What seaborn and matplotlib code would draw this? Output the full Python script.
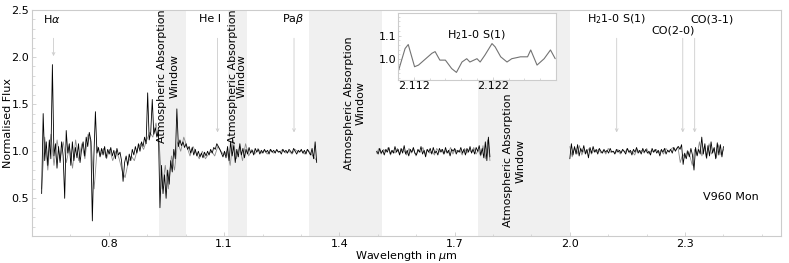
import numpy as np
import pandas as pd
import matplotlib
matplotlib.use('Agg')
import matplotlib.pyplot as plt
from matplotlib.ticker import FixedLocator, MultipleLocator
import seaborn as sns

# spectrum pieces (flux, evenly spaced in wavelength)
seg1_range = (0.625, 1.341)
seg1_black = [
    0.55, 1.40, 0.90, 1.10, 0.85, 1.12, 0.92, 1.92, 0.95, 1.08,
    0.82, 1.05, 0.88, 1.10, 0.95, 0.50, 1.22, 0.98, 1.08, 0.85,
    1.10, 0.90, 1.04, 0.93, 1.08, 0.88, 1.02, 1.10, 0.95, 1.15,
    1.05, 1.20, 1.12, 0.26, 0.95, 1.42, 0.98, 1.04, 0.94, 1.03,
    0.96, 1.05, 0.93, 1.02, 0.97, 1.04, 0.95, 1.01, 0.92, 1.03,
    0.96, 0.99, 0.90, 0.68, 0.88, 0.95, 0.85, 0.97, 0.90, 1.02,
    0.96, 1.05, 0.98, 1.08, 1.00, 1.10, 1.05, 1.15, 1.08, 1.62,
    1.12, 1.20, 1.55, 1.18, 1.25, 1.15, 1.22, 0.40, 0.85, 0.55,
    0.75, 0.50, 0.80, 0.65, 0.90, 0.78, 1.02, 0.92, 1.45, 1.05,
    1.12, 1.06, 1.10, 1.04, 1.08, 1.02, 1.05, 0.98, 1.04, 0.96,
    1.02, 0.95, 1.00, 0.94, 0.98, 0.93, 0.99, 0.95, 1.00, 0.96,
    1.02, 0.98, 1.04, 1.02, 1.08, 1.05, 1.02, 0.98, 0.94, 1.00,
    0.93, 1.05, 0.90, 1.10, 0.95, 1.06, 0.88, 1.02, 0.94, 1.08,
    0.96, 1.03, 0.93, 1.02, 0.97, 1.04, 0.98, 1.01, 0.96, 1.03,
    0.99, 1.02, 0.97, 1.01, 0.98, 1.02, 0.99, 1.01, 0.97, 1.02,
    0.99, 1.01, 0.98, 1.02, 0.99, 1.00, 0.97, 1.02, 0.99, 1.01,
    0.98, 1.02, 1.00, 0.98, 1.03, 1.00, 0.97, 1.01, 0.99, 1.02,
    0.98, 1.01, 0.97, 1.02, 0.99, 0.96, 1.03, 0.92, 1.10, 0.88,
]
seg1_grey = [
    0.60, 1.15, 0.80, 1.18, 0.85, 1.12, 0.90, 1.10, 0.88, 1.05,
    0.82, 1.12, 0.90, 1.08, 0.92, 1.18, 1.10, 0.60, 1.05, 0.95,
    1.03, 0.92, 1.02, 0.90, 1.00, 0.93, 0.80, 0.72, 0.88, 0.95,
    0.90, 1.02, 1.08, 1.02, 1.12, 1.20, 1.15, 1.30, 1.10, 0.60,
    0.85, 0.60, 0.95, 0.80, 1.10, 1.00, 1.15, 1.05, 0.95, 1.05,
    0.98, 0.92, 1.00, 0.92, 0.97, 1.00, 0.95, 1.05, 1.00, 0.96,
    1.00, 0.85, 1.12, 0.92, 1.05, 0.90, 1.08, 0.95, 1.02, 0.97,
    1.03, 0.98, 1.01, 0.97, 1.02, 0.98, 1.01, 0.99, 1.02, 0.98,
    1.00, 0.97, 1.02, 0.99, 1.01, 0.97, 1.02, 0.98, 0.94, 0.90,
]
seg2_range = (1.497, 1.792)
seg2_black = [
    1.00, 0.97, 1.03, 0.98, 1.01, 0.96, 1.02, 0.99, 1.04, 0.97,
    1.01, 0.98, 1.05, 0.99, 1.02, 0.96, 1.03, 0.98, 1.06, 0.97,
    1.01, 0.95, 1.02, 0.99, 1.04, 0.98, 0.96, 1.02, 0.99, 1.05,
    0.97, 1.01, 0.94, 1.02, 0.99, 1.03, 0.97, 1.04, 0.98, 1.00,
    0.96, 1.03, 0.99, 1.02, 0.97, 1.04, 0.98, 1.01, 0.95, 1.02,
    1.00, 1.03, 0.97, 1.01, 0.99, 1.04, 0.98, 1.02, 0.96, 1.03,
    0.99, 1.05, 0.98, 1.02, 0.97, 1.04, 1.00, 1.06, 0.96, 1.03,
    0.93, 1.10, 0.90, 1.15, 0.94,
]
seg2_grey = [
    0.98, 1.03, 0.97, 1.02, 0.99, 1.04, 0.96, 1.01, 0.98, 1.03,
    0.97, 1.02, 1.00, 0.96, 1.03, 0.98, 1.02, 0.95, 1.01, 0.99,
    1.04, 0.97, 1.02, 0.98, 1.00, 0.96, 1.03, 0.99, 1.02, 0.97,
    1.01, 0.98, 1.04, 0.97, 1.02, 0.99, 1.01, 0.96, 1.03, 0.98,
    1.02, 0.99, 1.04, 0.97, 1.01, 0.95, 1.06, 0.92, 1.12, 0.90,
]
seg3_range = (2.0, 2.40)
seg3_black = [
    0.92, 1.08, 0.96, 1.05, 0.97, 1.07, 0.95, 1.03, 0.99, 1.06,
    0.97, 1.02, 0.93, 1.04, 0.98, 1.05, 0.99, 1.02, 0.97, 1.03,
    1.00, 0.98, 1.02, 0.99, 1.01, 0.98, 1.03, 0.99, 1.00, 0.97,
    1.02, 0.99, 1.01, 0.98, 1.02, 1.00, 0.97, 1.03, 0.99, 1.01,
    0.96, 1.02, 0.99, 1.04, 0.98, 1.01, 0.97, 1.03, 0.99, 1.02,
    0.98, 1.00, 0.96, 1.03, 0.99, 1.02, 0.98, 1.01, 0.95, 1.02,
    0.99, 1.03, 0.97, 1.01, 0.99, 1.02, 0.98, 1.04, 1.00, 1.03,
    1.05, 1.02, 1.07, 0.86, 0.98, 0.92, 1.00, 0.94, 1.03, 0.96,
    0.80, 1.04, 0.95, 1.02, 0.97, 1.15, 0.97, 1.08, 0.93, 1.06,
    0.95, 1.10, 0.98, 1.04, 0.92, 1.09, 0.96, 1.07, 0.94, 1.05,
]
seg3_grey = [
    1.05, 0.94, 1.04, 0.97, 1.06, 0.96, 1.02, 0.98, 1.03, 0.97,
    1.01, 0.99, 1.02, 0.98, 1.01, 0.97, 1.03, 0.99, 1.00, 0.98,
    1.02, 0.97, 1.01, 0.99, 1.03, 0.98, 1.00, 0.96, 1.02, 0.99,
    1.01, 0.98, 1.03, 0.97, 1.01, 0.99, 1.02, 0.98, 1.01, 0.97,
    1.03, 1.00, 1.02, 1.04, 1.01, 1.05, 0.88, 0.97, 0.93, 1.01,
    0.95, 0.85, 1.02, 0.96, 1.10, 0.95, 1.05, 0.92, 1.08, 0.97,
    1.03, 0.93, 1.07, 0.96, 1.02,
]

# inset around H2 1-0 S(1)
inset_wave = [2.1100, 2.1109, 2.1113, 2.1121, 2.1126, 2.1143, 2.1147, 2.1153,
              2.1160, 2.1168, 2.1174, 2.1181, 2.1187, 2.1191, 2.1200, 2.1204,
              2.1210, 2.1219, 2.1223, 2.1230, 2.1238, 2.1244, 2.1251, 2.1255,
              2.1264, 2.1268, 2.1276, 2.1285, 2.1293, 2.1299]
inset_flux = [0.944, 1.045, 1.062, 0.968, 0.975, 1.025, 1.032, 0.996,
              0.996, 0.960, 0.944, 0.988, 1.002, 0.988, 1.002, 0.988,
              1.017, 1.066, 1.052, 1.010, 0.988, 1.002, 1.007, 1.010,
              1.010, 1.039, 0.975, 1.002, 1.039, 1.002]

windows = [(0.93, 1.00), (1.11, 1.16), (1.32, 1.51), (1.76, 2.00)]
window_text = [(0.955, 1.80, 1.35), (1.135, 1.80, 0.8), (1.44, 1.51, 1.3), (1.856, 0.90, 1.3)]

lines = ['H$\\alpha$', 'He I', 'Pa$\\beta$', 'H$_2$1-0 S(1)', 'CO(2-0)', 'CO(3-1)']
line_wave = [0.656, 1.083, 1.282, 2.122, 2.294, 2.325]
line_tip = [2.01, 1.2, 1.2, 1.2, 1.2, 1.2]
label_pos = [(0.652, 2.40), (1.063, 2.40), (1.281, 2.40), (2.122, 2.40), (2.269, 2.28), (2.37, 2.40)]


def segment_frame(rng, vals, seg):
    return pd.DataFrame({'wave': np.linspace(rng[0], rng[1], len(vals)),
                         'flux': vals, 'seg': seg})


black = pd.concat([segment_frame(seg1_range, seg1_black, 1),
                   segment_frame(seg2_range, seg2_black, 2),
                   segment_frame(seg3_range, seg3_black, 3)])
grey = pd.concat([segment_frame(seg1_range, seg1_grey, 1),
                  segment_frame(seg2_range, seg2_grey, 2),
                  segment_frame(seg3_range, seg3_grey, 3)])

sns.set_style('ticks')
plt.rcParams['font.family'] = ['DejaVu Sans']
plt.rcParams['mathtext.fontset'] = 'dejavusans'
plt.rcParams['text.color'] = 'black'
plt.rcParams['axes.labelcolor'] = 'black'
spine_col = '#cccccc'

fig = plt.figure(figsize=(7.89, 2.63), dpi=100)
ax = fig.add_axes([0.0406, 0.1027, 0.9494, 0.8593])

for lo, hi in windows:
    ax.axvspan(lo, hi, color='#f0f0f0', lw=0, zorder=0)

sns.lineplot(data=grey, x='wave', y='flux', units='seg', estimator=None, sort=False,
             color='0.55', lw=0.6, ax=ax)
sns.lineplot(data=black, x='wave', y='flux', units='seg', estimator=None, sort=False,
             color='black', lw=0.6, ax=ax)

for (tx, ty, ls) in window_text:
    ax.text(tx, ty, 'Atmospheric Absorption\nWindow', rotation=90, ha='center', va='center',
            multialignment='center', fontsize=8, linespacing=ls)

for name, w, tip, (tx, ty) in zip(lines, line_wave, line_tip, label_pos):
    ax.annotate('', xy=(w, tip), xytext=(w, 2.2),
                arrowprops=dict(arrowstyle='->', color='0.8', lw=0.6, shrinkA=0, shrinkB=0,
                                mutation_scale=5))
    ax.text(tx, ty, name, ha='center', va='center', fontsize=8)

ax.text(2.42, 0.51, 'V960 Mon', ha='center', va='center', fontsize=8)

ax.set_xlim(0.6, 2.55)
ax.set_ylim(0.1, 2.5)
ax.xaxis.set_major_locator(FixedLocator([0.8, 1.1, 1.4, 1.7, 2.0, 2.3]))
ax.xaxis.set_minor_locator(MultipleLocator(0.1))
ax.yaxis.set_major_locator(FixedLocator([0.5, 1.0, 1.5, 2.0, 2.5]))
ax.yaxis.set_minor_locator(MultipleLocator(0.1))
ax.set_xlabel('Wavelength in $\\mu$m', fontsize=8, labelpad=0.5)
ax.set_ylabel('Normalised Flux', fontsize=8)
ax.yaxis.set_label_coords(-0.026, 0.5)

for s in ax.spines.values():
    s.set_color(spine_col)
    s.set_linewidth(0.8)
ax.tick_params(which='major', direction='in', length=3, width=0.6, color=spine_col,
               labelsize=8, labelcolor='black', pad=2)
ax.tick_params(which='minor', direction='in', length=1.8, width=0.5, color=spine_col)

# inset
axi = fig.add_axes([0.5044, 0.696, 0.2003, 0.255])
axi.set_facecolor('white')
sns.lineplot(x=inset_wave, y=inset_flux, color='0.45', lw=0.8, estimator=None, sort=False, ax=axi)
axi.text(2.120, 1.103, 'H$_2$1-0 S(1)', ha='center', va='center', fontsize=8)
axi.set_xlim(2.110, 2.130)
axi.set_ylim(0.912, 1.196)
axi.xaxis.set_major_locator(FixedLocator([2.112, 2.122]))
axi.xaxis.set_minor_locator(MultipleLocator(0.002))
axi.yaxis.set_major_locator(FixedLocator([1.0, 1.1]))
axi.yaxis.set_minor_locator(MultipleLocator(0.02))
axi.set_xlabel('')
axi.set_ylabel('')
for s in axi.spines.values():
    s.set_color(spine_col)
    s.set_linewidth(0.8)
axi.tick_params(which='major', direction='in', length=2.5, width=0.6, color=spine_col,
                labelsize=8, labelcolor='black', pad=1)
axi.tick_params(which='minor', direction='in', length=1.5, width=0.5, color=spine_col)

fig.savefig('out.png', dpi=100)
